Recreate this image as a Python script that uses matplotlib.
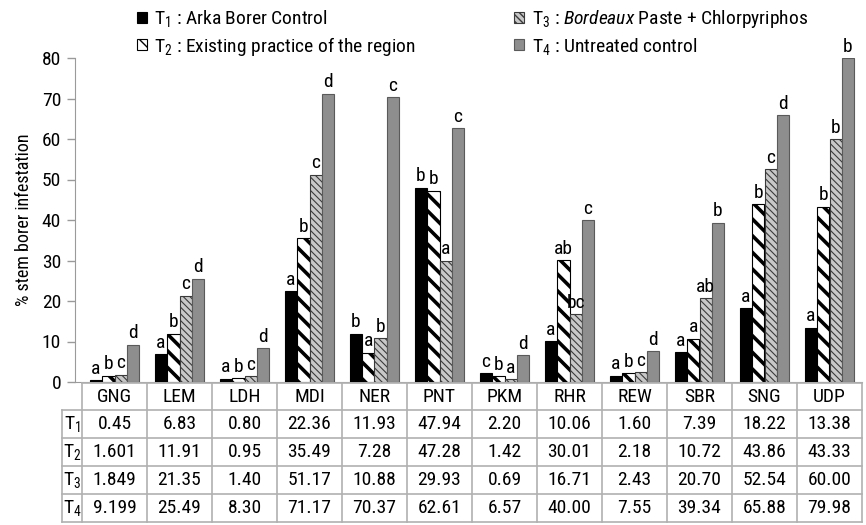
import matplotlib
matplotlib.use("Agg")
import matplotlib.pyplot as plt
import numpy as np
from matplotlib import font_manager
from matplotlib.patches import Patch

# ---------------- data ----------------
categories = ["GNG", "LEM", "LDH", "MDI", "NER", "PNT", "PKM", "RHR", "REW", "SBR", "SNG", "UDP"]
t1 = [0.45, 6.83, 0.80, 22.36, 11.93, 47.94, 2.20, 10.06, 1.60, 7.39, 18.22, 13.38]
t2 = [1.601, 11.91, 0.95, 35.49, 7.28, 47.28, 1.42, 30.01, 2.18, 10.72, 43.86, 43.33]
t3 = [1.849, 21.35, 1.40, 51.17, 10.88, 29.93, 0.69, 16.71, 2.43, 20.70, 52.54, 60.00]
t4 = [9.199, 25.49, 8.30, 71.17, 70.37, 62.61, 6.57, 40.00, 7.55, 39.34, 65.88, 79.98]
t1_txt = ["0.45", "6.83", "0.80", "22.36", "11.93", "47.94", "2.20", "10.06", "1.60", "7.39", "18.22", "13.38"]
t2_txt = ["1.601", "11.91", "0.95", "35.49", "7.28", "47.28", "1.42", "30.01", "2.18", "10.72", "43.86", "43.33"]
t3_txt = ["1.849", "21.35", "1.40", "51.17", "10.88", "29.93", "0.69", "16.71", "2.43", "20.70", "52.54", "60.00"]
t4_txt = ["9.199", "25.49", "8.30", "71.17", "70.37", "62.61", "6.57", "40.00", "7.55", "39.34", "65.88", "79.98"]
l1 = ["a", "a", "a", "a", "b", "b", "c", "a", "a", "a", "a", "a"]
l2 = ["b", "b", "b", "b", "a", "b", "b", "ab", "b", "a", "b", "b"]
l3 = ["c", "c", "c", "c", "b", "a", "a", "bc", "c", "ab", "c", "b"]
l4 = ["d", "d", "d", "d", "c", "c", "d", "c", "d", "b", "d", "b"]
row_names = ["T$_1$", "T$_2$", "T$_3$", "T$_4$"]
legend_labels = ["T$_1$ : Arka Borer Control",
                 "T$_2$ : Existing practice of the region",
                 "T$_3$ : $\\it{Bordeaux}$ Paste + Chlorpyriphos",
                 "T$_4$ : Untreated control"]
y_ticks = [0, 10, 20, 30, 40, 50, 60, 70, 80]
y_label = "% stem borer infestation"

# ---------------- fonts ----------------
def has_font(name):
    try:
        font_manager.findfont(name, fallback_to_default=False)
        return True
    except Exception:
        return False

fam = "Roboto"
for cand in ["Liberation Sans Narrow", "Roboto Condensed", "Roboto", "Liberation Sans"]:
    if has_font(cand):
        fam = cand
        break
plt.rcParams["font.family"] = [fam, "DejaVu Sans"]
plt.rcParams["mathtext.fontset"] = "custom"
plt.rcParams["mathtext.rm"] = fam
plt.rcParams["mathtext.it"] = fam + ":italic"
plt.rcParams["mathtext.bf"] = fam + ":bold"

FS = 14

W, H = 866, 525
fig = plt.figure(figsize=(W / 100, H / 100), dpi=100)

# axes: left spine at x=75px, category columns 82..862
col_w = 65.0
x_left_px, x_right_px = 75, 862
y_top_px, y_bot_px = 58, 382
ax = fig.add_axes([x_left_px / W, 1 - y_bot_px / H, (x_right_px - x_left_px) / W, (y_bot_px - y_top_px) / H])
ax.set_xlim(-0.5 - 7 / col_w, len(categories) - 0.5)
ax.set_ylim(0, 80)

x = np.arange(len(categories))
bw = 0.19
offs = np.array([-1.5, -0.5, 0.5, 1.5]) * bw

styles = [
    dict(facecolor="black", edgecolor="black", hatch=None, hlw=1.0),
    dict(facecolor="white", edgecolor="black", hatch="\\\\", hlw=2.6),
    dict(facecolor="#c8c8c8", edgecolor="#3a3a3a", hatch="\\\\\\\\\\", hlw=0.8),
    dict(facecolor="#8e8e8e", edgecolor="#5a5a5a", hatch=None, hlw=1.0),
]
series = [t1, t2, t3, t4]
letters = [l1, l2, l3, l4]

handles = []
for i, (vals, st) in enumerate(zip(series, styles)):
    with plt.rc_context({"hatch.linewidth": st["hlw"]}):
        bars = ax.bar(x + offs[i], vals, width=bw, facecolor=st["facecolor"],
                      edgecolor=st["edgecolor"], hatch=st["hatch"], linewidth=0.8, zorder=3)
        for b in bars:
            if hasattr(b, "set_hatch_linewidth"):
                b.set_hatch_linewidth(st["hlw"])
        h = Patch(facecolor=st["facecolor"], edgecolor=st["edgecolor"], hatch=st["hatch"], linewidth=0.8)
        if hasattr(h, "set_hatch_linewidth"):
            h.set_hatch_linewidth(min(st["hlw"], 1.5))
    handles.append(h)
    for xi, v, lt in zip(x + offs[i], vals, letters[i]):
        ax.text(xi, v + 0.6, lt, ha="center", va="bottom", fontsize=FS, clip_on=False, zorder=5)

# axes styling
for s in ["top", "right"]:
    ax.spines[s].set_visible(False)
ax.spines["left"].set_color("#9a9a9a")
ax.spines["bottom"].set_color("#9a9a9a")
ax.set_xticks([])
ax.set_yticks(y_ticks)
ax.tick_params(axis="y", length=6, width=1, color="#9a9a9a", labelsize=FS, pad=4)
ax.set_ylabel(y_label, fontsize=FS - 1, labelpad=6)

# legend (two columns drawn as two legends)
leg_kw = dict(frameon=False, fontsize=FS, handlelength=0.5, handleheight=0.5,
              handletextpad=0.4, labelspacing=0.3, borderpad=0, borderaxespad=0)
leg1 = fig.legend(handles[:2], legend_labels[:2], loc="upper left",
                  bbox_to_anchor=(137 / W, 1 - 8 / H), **leg_kw)
leg2 = fig.legend(handles[2:], legend_labels[2:], loc="upper left",
                  bbox_to_anchor=(514 / W, 1 - 8 / H), **leg_kw)

# ---------------- table ----------------
line_c = "#b0b0b0"
tab_left_px = 62
col0_px = 82
row_y = [383, 410, 438, 466, 494, 522]
ncol = len(categories)

def fx(px):
    return px / W

def fy(py):
    return 1 - py / H

def hline(px0, px1, py):
    fig.add_artist(plt.Line2D([fx(px0), fx(px1)], [fy(py), fy(py)], color=line_c, lw=1.2))

def vline(px, py0, py1):
    fig.add_artist(plt.Line2D([fx(px), fx(px)], [fy(py0), fy(py1)], color=line_c, lw=1.2))

col_edges = [col0_px + k * col_w for k in range(ncol + 1)]
hline(col0_px, col_edges[-1], row_y[0])
for k in range(1, len(row_y)):
    hline(tab_left_px, col_edges[-1], row_y[k])
for ce in col_edges:
    vline(ce, row_y[0], row_y[-1])
vline(tab_left_px, row_y[1], row_y[-1])

for k, cat in enumerate(categories):
    fig.text(fx(col_edges[k] + col_w / 2), fy((row_y[0] + row_y[1]) / 2), cat,
             ha="center", va="center", fontsize=FS)

table_rows = [t1_txt, t2_txt, t3_txt, t4_txt]
for r, (name, vals) in enumerate(zip(row_names, table_rows)):
    yc = fy((row_y[r + 1] + row_y[r + 2]) / 2)
    fig.text(fx((tab_left_px + col0_px) / 2), yc, name, ha="center", va="center", fontsize=FS)
    for k, v in enumerate(vals):
        fig.text(fx(col_edges[k] + col_w / 2), yc, v, ha="center", va="center", fontsize=FS)

fig.savefig("out.png", dpi=100)
